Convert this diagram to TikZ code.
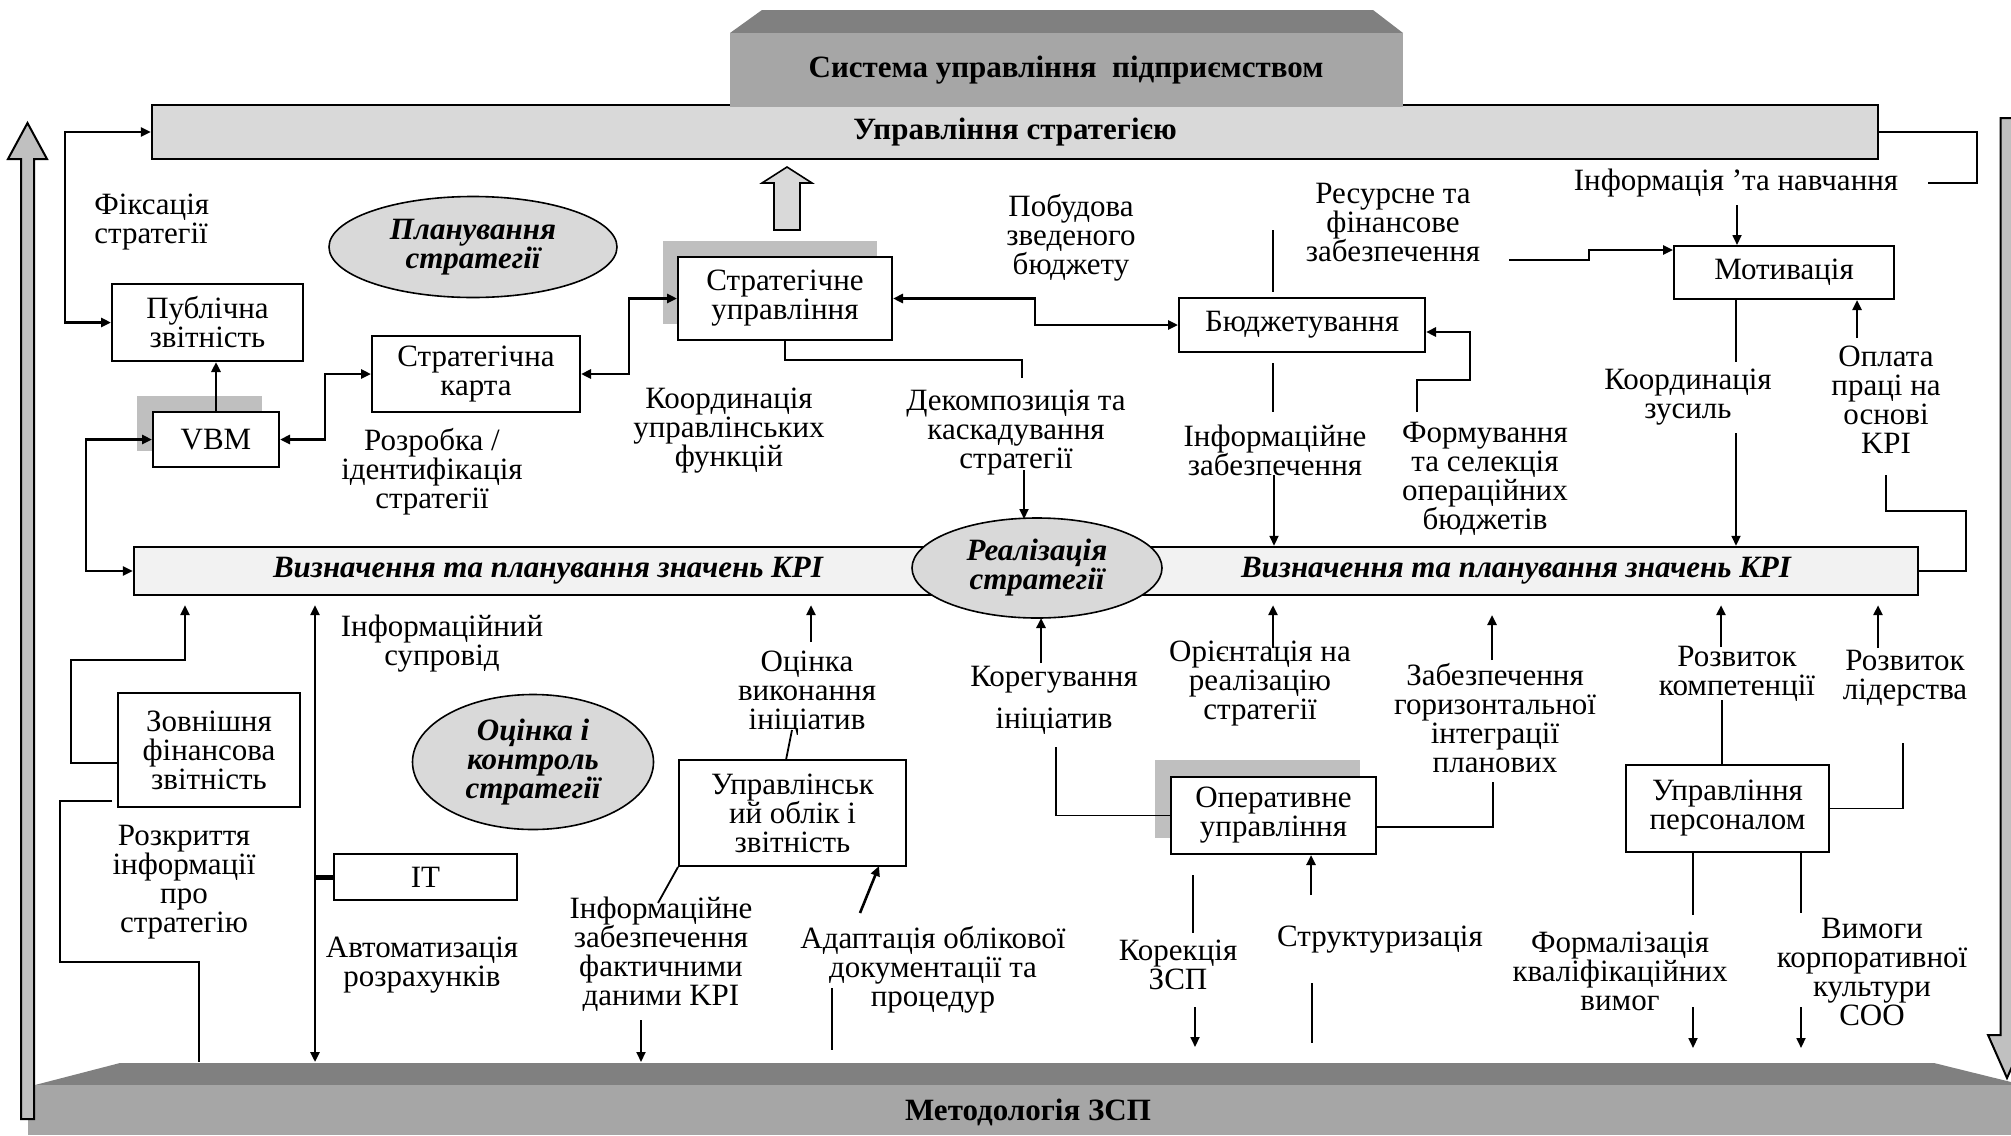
\documentclass[tikz,border=0pt]{standalone}
\usepackage{fontspec}
\setmainfont{Liberation Serif}
\usetikzlibrary{arrows.meta,shapes.geometric,calc}
\definecolor{topdark}{HTML}{808080}
\definecolor{frontg}{HTML}{A6A6A6}
\definecolor{barg}{HTML}{D9D9D9}
\definecolor{kpig}{HTML}{F2F2F2}
\definecolor{shadowg}{HTML}{BFBFBF}
\definecolor{arrg}{HTML}{C0C0C0}
\begin{document}
\begin{tikzpicture}[x=0.5pt,y=-0.5pt,
  font=\fontsize{15.5}{14.5}\selectfont,
  >={Triangle[length=5pt,width=4.5pt]},
  box/.style={draw,line width=1pt,fill=white,inner sep=0pt,align=center},
  lbl/.style={inner sep=0pt,align=center},
  bi/.style={inner sep=0pt,align=center,font=\fontsize{15.5}{14.5}\selectfont\bfseries\itshape},
  ell/.style={ellipse,draw,line width=0.8pt,fill=barg,inner sep=0pt,align=center,font=\fontsize{15.5}{14.5}\selectfont\bfseries\itshape},
  conn/.style={line width=1.3pt},
  thinl/.style={line width=0.9pt},
  gap/.style={shorten >=4.5pt}
]
\useasboundingbox (0,0) rectangle (2011,1135);
\fill[white] (0,0) rectangle (2011,1135);

% ---- top bar and block
\node[draw,line width=1.2pt,fill=barg,minimum width=863pt,minimum height=27pt,inner sep=0pt,font=\fontsize{15.5}{14.5}\selectfont\bfseries] (us) at (1015,132) {Управління стратегією};
\fill[topdark] (730,33) -- (762,10) -- (1373,10) -- (1403,33) -- cycle;
\fill[frontg] (730,33) rectangle (1403,107);
\node[lbl,font=\fontsize{15.5}{14.5}\selectfont\bfseries] (sys) at (1066,70) {Система управління\ \ підприємством};

% ---- bottom block
\fill[topdark] (35,1085) -- (120,1063) -- (1934,1063) -- (2011,1082) -- (2011,1085) -- cycle;
\fill[frontg] (28,1085) rectangle (2011,1135);
\node[lbl,font=\fontsize{15.5}{14.5}\selectfont\bfseries] (meth) at (1028,1112) {Методологія ЗСП};
\coordinate (mtop) at (0,1062);

% ---- big side arrows
\draw[line width=1pt,fill=arrg] (21,1119) -- (21,159) -- (8,159) -- (27.5,123) -- (47,159) -- (34,159) -- (34,1119) -- cycle;
\draw[line width=1pt,fill=arrg] (2000.5,118) -- (2013.5,118) -- (2013.5,1035) -- (2026,1035) -- (2007,1078) -- (1988,1035) -- (2000.5,1035) -- cycle;

% small block arrow
\draw[line width=0.8pt,fill=barg] (774,230) -- (774,183) -- (762,183) -- (787,167) -- (812,183) -- (800,183) -- (800,230) -- cycle;

% ---- shadows
\fill[shadowg] (137,396) rectangle (262,451);
\fill[shadowg] (663,241) rectangle (877,324);
\fill[shadowg] (1155,760) rectangle (1360,838);

% ---- boxes
\node[box,minimum width=95.5pt,minimum height=38.5pt] (pub) at (207.5,322.5) {Публічна\\звітність};
\node[box,minimum width=63pt,minimum height=27.5pt] (vbm) at (216,439.5) {VBM};
\node[box,minimum width=104pt,minimum height=38pt] (map) at (476,374) {Стратегічна\\карта};
\node[box,minimum width=107pt,minimum height=41.5pt] (su) at (785,298.5) {Стратегічне\\управління};
\node[box,minimum width=123pt,minimum height=27pt] (bud) at (1302,325) {Бюджетування};
\node[box,minimum width=110pt,minimum height=26.5pt] (mot) at (1784,272.5) {Мотивація};
\node[box,minimum width=91pt,minimum height=57pt] (zovn) at (209,750) {Зовнішня\\фінансова\\звітність};
\node[box,minimum width=91.5pt,minimum height=23pt] (it) at (425.5,877) {IT};
\node[box,minimum width=113.5pt,minimum height=53pt] (uo) at (792.5,813) {Управлінськ\\ий облік і\\звітність};
\node[box,minimum width=102.5pt,minimum height=38.5pt] (op) at (1273.5,815.5) {Оперативне\\управління};
\node[box,minimum width=101.5pt,minimum height=43.5pt] (pers) at (1727.5,808.5) {Управління\\персоналом};

% ---- KPI bar
\node[draw,line width=1.2pt,fill=kpig,minimum width=892pt,minimum height=24pt,inner sep=0pt] (kpi) at (1026,571) {};
\node[bi] (kpil) at (548,571) {Визначення та планування значень KPI};
\node[bi] (kpir) at (1516,571) {Визначення та планування значень KPI};

% ---- ellipses
\node[ell,minimum width=144pt,minimum height=50.5pt] (plan) at (473,247) {Планування\\стратегії};
\node[ell,minimum width=125pt,minimum height=50pt] (real) at (1037,568) {Реалізація\\стратегії};
\node[ell,minimum width=120.5pt,minimum height=67.5pt] (ocin) at (533,762) {Оцінка і\\контроль\\стратегії};

% ---- labels
\node[lbl,align=left,anchor=west] (fix) at (94,222) {Фіксація\\стратегії};
\node[lbl] (pob) at (1071,238) {Побудова\\зведеного\\бюджету};
\node[lbl] (res) at (1393,222) {Ресурсне та\\фінансове\\забезпечення};
\node[lbl] (infn) at (1736,183) {Інформація ’та навчання};
\node[lbl] (rozr) at (432,472) {Розробка /\\ідентифікація\\стратегії};
\node[lbl] (koord) at (729,431) {Координація\\управлінських\\функцій};
\node[lbl] (dek) at (1016,433) {Декомпозиція та\\каскадування\\стратегії};
\node[lbl] (infz) at (1275,450) {Інформаційне\\забезпечення};
\node[lbl] (form) at (1485,479) {Формування\\та селекція\\операційних\\бюджетів};
\node[lbl] (kz) at (1688,397) {Координація\\зусиль};
\node[lbl] (opl) at (1886,400) {Оплата\\праці на\\основі\\KPI};
\node[lbl] (infs) at (442,644) {Інформаційний\\супровід};
\node[lbl] (ocv) at (807,693) {Оцінка\\виконання\\ініціатив};
\node[lbl] (kor) at (1054,700) {Корегування\\[6.5pt]ініціатив};
\node[lbl] (orient) at (1260,684) {Орієнтація на\\реалізацію\\стратегії};
\node[lbl] (zabez) at (1495,718) {Забезпечення\\горизонтальної\\інтеграції\\планових};
\node[lbl] (rkomp) at (1737,674) {Розвиток\\компетенції};
\node[lbl] (rlid) at (1905,678) {Розвиток\\лідерства};
\node[lbl] (rozkr) at (184,882) {Розкриття\\інформації\\про\\стратегію};
\node[lbl] (avto) at (422,965) {Автоматизація\\розрахунків};
\node[lbl] (inff) at (661,954) {Інформаційне\\забезпечення\\фактичними\\даними KPI};
\node[lbl] (adapt) at (933,970) {Адаптація облікової\\документації та\\процедур};
\node[lbl,font=\fontsize{15.5}{12.5}\selectfont] (korek) at (1178,965) {Корекція\\ЗСП};
\node[lbl] (strukt) at (1380,940) {Структуризація};
\node[lbl] (formal) at (1620,971) {Формалізація\\кваліфікаційних\\вимог};
\node[lbl] (vym) at (1872,972) {Вимоги\\корпоративної\\культури\\СОО};

% ---- coordinates
\coordinate (fixc) at (65,132);
\coordinate (c1) at (325,0);
\coordinate (c2) at (629,0);
\coordinate (c3) at (1035,0);
\coordinate (c4) at (86,0);

% ---- planning connectors
\draw[conn,<->] (pub.west) -| (fixc) -- (us.west);
\draw[conn,->] (vbm.north) -- (vbm.north |- pub.south);
\draw[conn,<->] (vbm.east) -| (c1 |- map.west) -- (map.west);
\draw[conn,<->] (map.east) -| (c2 |- su.west) -- (su.west);
\draw[conn,<->] (su.east) -| (c3 |- bud.west) -- (bud.west);
\draw[conn,<->] (vbm.west) -| (c4 |- kpi.west) -- (kpi.west);

\coordinate (dk1) at (1022,378);
\draw[thinl] (su.south) -- ++(0,19) -| (dk1);
\coordinate (dk2) at (1024,470);
\draw[thinl,->] (dk2) -- (1024,519);

\coordinate (b1) at (1273,230);
\draw[thinl] (b1) -- (1273,292);
\coordinate (b2) at (1273,363);
\draw[thinl] (b2) -- (1273,412);
\coordinate (b3) at (1274,475);
\draw[thinl,->] (b3) -- (b3 |- kpi.north);

\coordinate (f1) at (1417,412);
\coordinate (f2) at (1470,332);
\draw[conn,->] (f1) -- (1417,380) -- (1470,380) -- (f2) -- (f2 -| bud.east);

\coordinate (m1) at (1509,260);
\coordinate (m1b) at (1589,250);
\draw[conn,->] (m1) -- (1589,260) -- (m1b) -- (m1b -| mot.west);
\coordinate (m2) at (1737,205);
\draw[thinl,->] (m2) -- (m2 |- mot.north);
\coordinate (m3) at (1977,183);
\coordinate (m4) at (1928,183);
\draw[thinl] (us.east) -| (m3) -- (m4);
\coordinate (m5) at (1736,362);
\draw[thinl] (m5 |- mot.south) -- (m5);
\coordinate (m6) at (1736,433);
\draw[thinl,->] (m6) -- (m6 |- kpi.north);
\coordinate (m7) at (1857,338);
\draw[conn,->] (m7) -- (m7 |- mot.south);
\coordinate (m8) at (1886,475);
\draw[thinl] (m8) -- (1886,511) -- (1966,511) -- (1966,571) -- (kpi.east);

% ---- lower left
\coordinate (z1) at (118,763);
\coordinate (z3) at (185,660);
\draw[conn,->,gap] (z1) -- (71,763) -- (71,660) -- (z3) -- (z3 |- kpi.south);
\coordinate (z4) at (112,801);
\coordinate (z5) at (199,962);
\draw[conn] (z4) -- (60,801) -- (60,962) -- (z5) -- (z5 |- mtop);
\coordinate (iv) at (315,0);
\draw[conn,<->,shorten <=4.5pt] (iv |- kpi.south) -- (iv |- mtop);
\draw[line width=2.5pt] (iv |- it.west) -- (it.west);

\coordinate (o1) at (811,642);
\draw[conn,->,gap] (o1) -- (o1 |- kpi.south);
\coordinate (o2) at (792,730);
\draw[thinl] (o2) -- (786,760);
\coordinate (o3) at (658,903);
\draw[thinl] (uo.south west) -- (o3);
\coordinate (o4) at (641,1020);
\draw[thinl,->] (o4) -- (o4 |- mtop);
\coordinate (a1) at (860,913);
\draw[conn,->] (a1) -- (879,866);
\coordinate (a2) at (832,988);
\draw[thinl] (a2) -- (832,1050);

% ---- lower middle
\coordinate (k1) at (1041,663);
\draw[conn,->] (k1) -- (1041,618);
\coordinate (k2) at (1056,747);
\draw[thinl] (k2) |- (op.west);
\coordinate (r1) at (1273,648);
\draw[conn,->,gap] (r1) -- (r1 |- kpi.south);
\coordinate (g1) at (1492,660);
\draw[conn,->] (g1) -- (1492,615);
\coordinate (g2) at (1493,782);
\coordinate (g3) at (1376,827);
\draw[thinl] (g2) |- (g3);
\coordinate (kc1) at (1193,875);
\draw[thinl] (kc1) -- (1193,933);
\coordinate (kc2) at (1195,1007);
\draw[thinl,->] (kc2) -- (1195,1047);
\coordinate (s1) at (1311,895);
\draw[conn,->] (s1) -- (s1 |- op.south);
\coordinate (s2) at (1312,983);
\draw[thinl] (s2) -- (1312,1043);

% ---- lower right
\coordinate (p1) at (1722,700);
\draw[thinl] (p1) -- (p1 |- pers.north);
\coordinate (p2) at (1721,647);
\draw[conn,->,gap] (p2) -- (p2 |- kpi.south);
\coordinate (p3) at (1903,743);
\draw[thinl] (pers.east) -| (p3);
\coordinate (p4) at (1878,648);
\draw[conn,->,gap] (p4) -- (p4 |- kpi.south);
\coordinate (p5) at (1693,915);
\draw[thinl] (p5 |- pers.south) -- (p5);
\coordinate (p6) at (1801,913);
\draw[thinl] (p6 |- pers.south) -- (p6);
\coordinate (p7) at (1693,1007);
\draw[thinl,->] (p7) -- (1693,1048);
\coordinate (p8) at (1801,1007);
\draw[thinl,->] (p8) -- (1801,1048);
\end{tikzpicture}
\end{document}
